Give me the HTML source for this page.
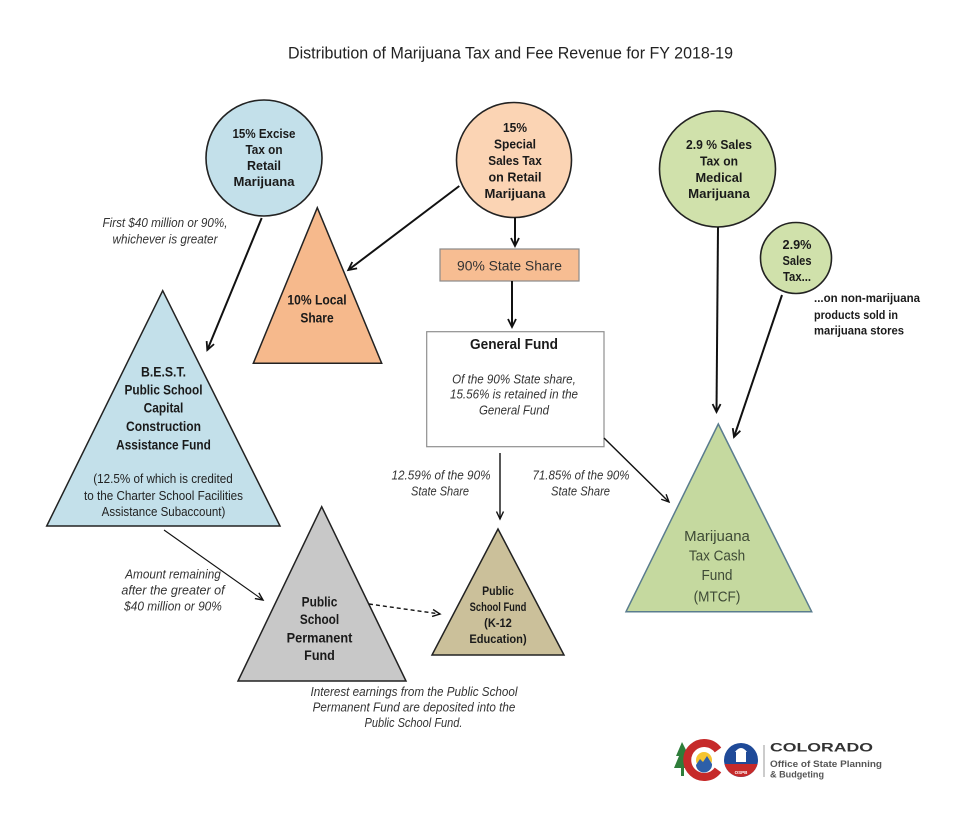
<!DOCTYPE html>
<html><head><meta charset="utf-8"><style>
html,body{margin:0;padding:0;background:#fff;}
svg{display:block;}
text{font-family:"Liberation Sans",sans-serif;}
.b{font-weight:bold;fill:#1a1a1a;}
.i{font-style:italic;fill:#333;}
.r{fill:#333;}
</style></head><body>
<svg width="968" height="823" viewBox="0 0 968 823" xmlns="http://www.w3.org/2000/svg">
<defs>
<marker id="ah" markerUnits="userSpaceOnUse" markerWidth="12" markerHeight="12" refX="9" refY="5" orient="auto">
<path d="M1,1 L9,5 L1,9" fill="none" stroke="#111" stroke-width="1.8"/>
</marker>
<marker id="ah2" markerUnits="userSpaceOnUse" markerWidth="12" markerHeight="12" refX="9" refY="5" orient="auto">
<path d="M1.5,1.5 L9,5 L1.5,8.5" fill="none" stroke="#111" stroke-width="1.4"/>
</marker>
</defs>
<rect width="968" height="823" fill="#fff"/>

<!-- Title -->
<text x="510.5" y="58.7" font-size="17" text-anchor="middle" fill="#222" textLength="445" lengthAdjust="spacingAndGlyphs">Distribution of Marijuana Tax and Fee Revenue for FY 2018-19</text>

<!-- Shapes -->
<circle cx="264" cy="158" r="58" fill="#c3e0ea" stroke="#222" stroke-width="1.6"/>
<circle cx="514" cy="160" r="57.5" fill="#fbd4b4" stroke="#222" stroke-width="1.6"/>
<circle cx="717.5" cy="169" r="58" fill="#d0e1ab" stroke="#222" stroke-width="1.6"/>
<circle cx="796" cy="258" r="35.5" fill="#d0e1ab" stroke="#222" stroke-width="1.6"/>

<polygon points="317.3,207.7 253.3,363.3 381.7,363.3" fill="#f6b98c" stroke="#222" stroke-width="1.5"/>
<polygon points="162.7,290.7 46.7,526 280,526" fill="#c3e0ea" stroke="#222" stroke-width="1.5"/>
<polygon points="718.3,424 626,611.7 811.7,611.7" fill="#c5d99f" stroke="#5a7c8e" stroke-width="1.5"/>
<polygon points="321.7,506.7 238,681 406,681" fill="#c8c8c8" stroke="#222" stroke-width="1.5"/>
<polygon points="498,529 432,655 564,655" fill="#cbc09a" stroke="#222" stroke-width="1.5"/>

<rect x="440" y="249" width="139" height="32" fill="#f7bd92" stroke="#8a8a8a" stroke-width="1.2"/>
<rect x="426.7" y="331.7" width="177.3" height="115" fill="#fff" stroke="#8f8f8f" stroke-width="1.2"/>

<!-- Arrows -->
<g stroke="#111" fill="none">
<line x1="261.7" y1="218" x2="207.3" y2="350" stroke-width="2" marker-end="url(#ah)"/>
<line x1="459.3" y1="186" x2="348.3" y2="270" stroke-width="2" marker-end="url(#ah)"/>
<line x1="515" y1="217.5" x2="515" y2="246" stroke-width="2" marker-end="url(#ah)"/>
<line x1="512" y1="281" x2="512" y2="327" stroke-width="2" marker-end="url(#ah)"/>
<line x1="718" y1="227" x2="716.5" y2="412" stroke-width="2" marker-end="url(#ah)"/>
<line x1="782" y1="295" x2="734" y2="437" stroke-width="2" marker-end="url(#ah)"/>
<line x1="500" y1="453" x2="500" y2="519" stroke-width="1.4" marker-end="url(#ah2)"/>
<line x1="604" y1="438" x2="669" y2="502" stroke-width="1.4" marker-end="url(#ah2)"/>
<line x1="164" y1="530" x2="263" y2="600" stroke-width="1.1" marker-end="url(#ah2)"/>
<line x1="369" y1="604" x2="440" y2="614" stroke-width="1.4" stroke-dasharray="4,3" marker-end="url(#ah2)"/>
</g>

<!-- Excise circle text -->
<g class="b" font-size="13" text-anchor="middle">
<text x="264" y="138" textLength="63" lengthAdjust="spacingAndGlyphs">15% Excise</text>
<text x="264" y="154" textLength="37" lengthAdjust="spacingAndGlyphs">Tax on</text>
<text x="264" y="170" textLength="34" lengthAdjust="spacingAndGlyphs">Retail</text>
<text x="264" y="186" textLength="61" lengthAdjust="spacingAndGlyphs">Marijuana</text>
</g>
<!-- Special circle text -->
<g class="b" font-size="13" text-anchor="middle">
<text x="515" y="132" textLength="24" lengthAdjust="spacingAndGlyphs">15%</text>
<text x="515" y="148.5" textLength="42" lengthAdjust="spacingAndGlyphs">Special</text>
<text x="515" y="165" textLength="53.5" lengthAdjust="spacingAndGlyphs">Sales Tax</text>
<text x="515" y="181.5" textLength="53" lengthAdjust="spacingAndGlyphs">on Retail</text>
<text x="515" y="198" textLength="61" lengthAdjust="spacingAndGlyphs">Marijuana</text>
</g>
<!-- Medical circle text -->
<g class="b" font-size="13" text-anchor="middle">
<text x="719" y="149" textLength="66" lengthAdjust="spacingAndGlyphs">2.9 % Sales</text>
<text x="719" y="165.5" textLength="38" lengthAdjust="spacingAndGlyphs">Tax on</text>
<text x="719" y="182" textLength="47" lengthAdjust="spacingAndGlyphs">Medical</text>
<text x="719" y="198" textLength="61.7" lengthAdjust="spacingAndGlyphs">Marijuana</text>
</g>
<!-- Small circle text -->
<g class="b" font-size="13" text-anchor="middle">
<text x="797" y="249" textLength="29" lengthAdjust="spacingAndGlyphs">2.9%</text>
<text x="797" y="265" textLength="29" lengthAdjust="spacingAndGlyphs">Sales</text>
<text x="797" y="281" textLength="28" lengthAdjust="spacingAndGlyphs">Tax...</text>
</g>
<g class="b" font-size="11.5">
<text x="814" y="302" textLength="106" lengthAdjust="spacingAndGlyphs">...on non-marijuana</text>
<text x="814" y="319" textLength="84" lengthAdjust="spacingAndGlyphs">products sold in</text>
<text x="814" y="334.5" textLength="90" lengthAdjust="spacingAndGlyphs">marijuana stores</text>
</g>

<!-- First $40 million -->
<g class="i" font-size="12.5" text-anchor="middle">
<text x="165" y="227" textLength="125" lengthAdjust="spacingAndGlyphs">First $40 million or 90%,</text>
<text x="165" y="243.5" textLength="105" lengthAdjust="spacingAndGlyphs">whichever is greater</text>
</g>

<!-- Local share -->
<g class="b" font-size="14" text-anchor="middle">
<text x="317" y="304.5" textLength="59.3" lengthAdjust="spacingAndGlyphs">10% Local</text>
<text x="317" y="322.5" textLength="33.3" lengthAdjust="spacingAndGlyphs">Share</text>
</g>

<!-- 90% State share box -->
<text x="509.5" y="270.5" font-size="14" text-anchor="middle" fill="#333" textLength="105" lengthAdjust="spacingAndGlyphs">90% State Share</text>

<!-- General Fund -->
<text x="514" y="349" class="b" font-size="14.5" text-anchor="middle" textLength="88" lengthAdjust="spacingAndGlyphs">General Fund</text>
<g class="i" font-size="12.5" text-anchor="middle">
<text x="514" y="383.5" textLength="123.7" lengthAdjust="spacingAndGlyphs">Of the 90% State share,</text>
<text x="514" y="398.5" textLength="128" lengthAdjust="spacingAndGlyphs">15.56% is retained in the</text>
<text x="514" y="414.5" textLength="70" lengthAdjust="spacingAndGlyphs">General Fund</text>
</g>

<!-- BEST -->
<g class="b" font-size="14" text-anchor="middle">
<text x="163.5" y="376.5" textLength="45" lengthAdjust="spacingAndGlyphs">B.E.S.T.</text>
<text x="163.5" y="394.5" textLength="78" lengthAdjust="spacingAndGlyphs">Public School</text>
<text x="163.5" y="412.5" textLength="39.7" lengthAdjust="spacingAndGlyphs">Capital</text>
<text x="163.5" y="431" textLength="75" lengthAdjust="spacingAndGlyphs">Construction</text>
<text x="163.5" y="449.5" textLength="94.7" lengthAdjust="spacingAndGlyphs">Assistance Fund</text>
</g>
<g font-size="12.5" text-anchor="middle" fill="#222">
<text x="163" y="483" textLength="139.5" lengthAdjust="spacingAndGlyphs">(12.5% of which is credited</text>
<text x="163.5" y="500" textLength="159" lengthAdjust="spacingAndGlyphs">to the Charter School Facilities</text>
<text x="163.5" y="516" textLength="123.7" lengthAdjust="spacingAndGlyphs">Assistance Subaccount)</text>
</g>

<!-- Share labels -->
<g class="i" font-size="12.5" text-anchor="middle">
<text x="441" y="479.5" textLength="99" lengthAdjust="spacingAndGlyphs">12.59% of the 90%</text>
<text x="440" y="495.5" textLength="58" lengthAdjust="spacingAndGlyphs">State Share</text>
<text x="581" y="479.5" textLength="97" lengthAdjust="spacingAndGlyphs">71.85% of the 90%</text>
<text x="580.5" y="495.5" textLength="59" lengthAdjust="spacingAndGlyphs">State Share</text>
</g>

<!-- MTCF -->
<g font-size="15" text-anchor="middle" fill="#3e4a36">
<text x="717" y="541" textLength="65.7" lengthAdjust="spacingAndGlyphs">Marijuana</text>
<text x="717" y="560.5" textLength="56.3" lengthAdjust="spacingAndGlyphs">Tax Cash</text>
<text x="717" y="580" textLength="31" lengthAdjust="spacingAndGlyphs">Fund</text>
<text x="717" y="601.5" textLength="46.7" lengthAdjust="spacingAndGlyphs">(MTCF)</text>
</g>

<!-- Amount remaining -->
<g class="i" font-size="12.5" text-anchor="middle">
<text x="173" y="578.5" textLength="95.7" lengthAdjust="spacingAndGlyphs">Amount remaining</text>
<text x="173" y="594.5" textLength="103.3" lengthAdjust="spacingAndGlyphs">after the greater of</text>
<text x="173" y="610.5" textLength="97.7" lengthAdjust="spacingAndGlyphs">$40 million or 90%</text>
</g>

<!-- Permanent Fund -->
<g class="b" font-size="14" text-anchor="middle">
<text x="319.5" y="606.5" textLength="35.7" lengthAdjust="spacingAndGlyphs">Public</text>
<text x="319.5" y="624" textLength="39.3" lengthAdjust="spacingAndGlyphs">School</text>
<text x="319.5" y="642.5" textLength="65.7" lengthAdjust="spacingAndGlyphs">Permanent</text>
<text x="319.5" y="660" textLength="30.7" lengthAdjust="spacingAndGlyphs">Fund</text>
</g>

<!-- Public School Fund -->
<g class="b" font-size="12" text-anchor="middle">
<text x="498" y="595" textLength="31.7" lengthAdjust="spacingAndGlyphs">Public</text>
<text x="498" y="611" textLength="56.7" lengthAdjust="spacingAndGlyphs">School Fund</text>
<text x="498" y="627" textLength="27.7" lengthAdjust="spacingAndGlyphs">(K-12</text>
<text x="498" y="643" textLength="57.3" lengthAdjust="spacingAndGlyphs">Education)</text>
</g>

<!-- Interest earnings -->
<g class="i" font-size="12.5" text-anchor="middle">
<text x="414" y="696" textLength="207" lengthAdjust="spacingAndGlyphs">Interest earnings from the Public School</text>
<text x="414" y="711.5" textLength="202.7" lengthAdjust="spacingAndGlyphs">Permanent Fund are deposited into the</text>
<text x="413.5" y="727" textLength="98" lengthAdjust="spacingAndGlyphs">Public School Fund.</text>
</g>

<!-- Logo -->
<g>
<polygon points="682,742 676,756 679,756 674,768 681,768 681,776 684,776 684,768 691,768 686,756 689,756" fill="#2e7d3a"/>
<path d="M718,750 A17,17 0 1 0 718,770" fill="none" stroke="#c62a2a" stroke-width="8"/>
<circle cx="704" cy="760" r="8" fill="#f6c531"/>
<path d="M696,765 L700,759 L703,762 L707,756 L712,764 A8,8 0 0 1 696,765 Z" fill="#2d5fa8"/>
<circle cx="741" cy="760" r="17" fill="#1f4a98"/>
<path d="M724.5,764 L757.5,764 A17,17 0 0 1 724.5,764 Z" fill="#c62a2a"/>
<rect x="736" y="752" width="10" height="10" fill="#fff"/>
<path d="M735,752 Q741,744 747,752 Z" fill="#fff"/>
<text x="741" y="774" font-size="4.5" font-weight="bold" fill="#fff" text-anchor="middle">OSPB</text>
<line x1="764" y1="745" x2="764" y2="777" stroke="#999" stroke-width="1"/>
<text x="770" y="751.5" font-size="12" font-weight="bold" fill="#333" textLength="103" lengthAdjust="spacingAndGlyphs">COLORADO</text>
<text x="770" y="767" font-size="9.5" font-weight="bold" fill="#555" textLength="112" lengthAdjust="spacingAndGlyphs">Office of State Planning</text>
<text x="770" y="777.5" font-size="9.5" font-weight="bold" fill="#555" textLength="54" lengthAdjust="spacingAndGlyphs">&amp; Budgeting</text>
</g>
</svg>
</body></html>
